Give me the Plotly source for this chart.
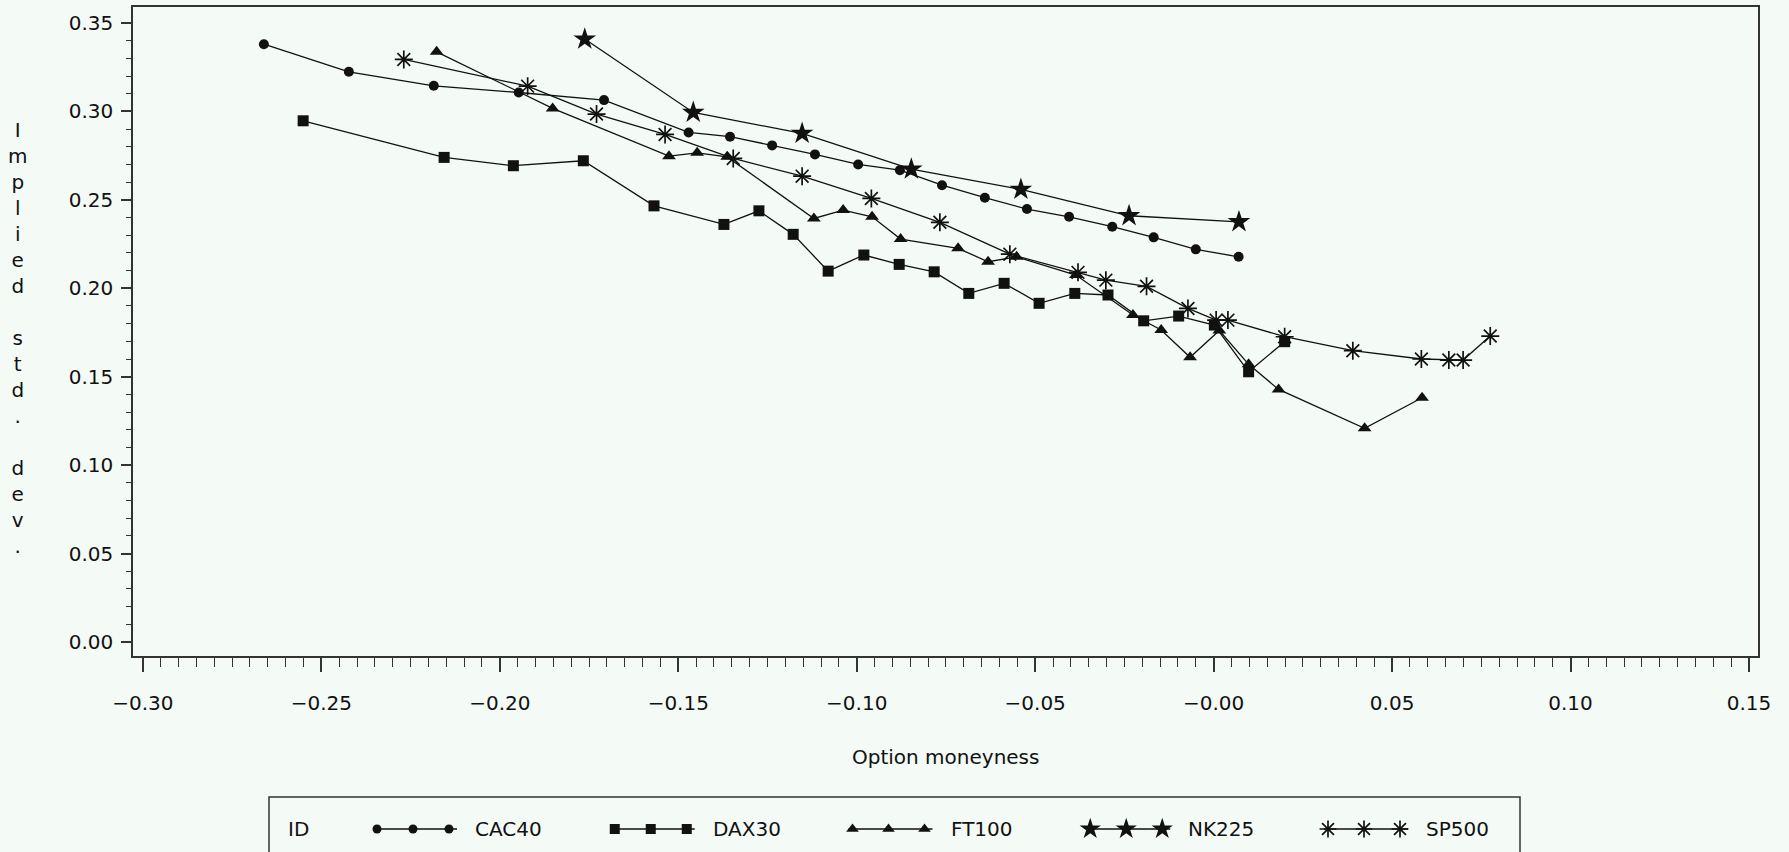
import plotly.graph_objects as go

# ---------------- data ----------------
cac40_x = [-0.2661, -0.2423, -0.2185, -0.1947, -0.1708, -0.1471, -0.1355, -0.1237, -0.1117, -0.0996,
           -0.0879, -0.0761, -0.0641, -0.0523, -0.0405, -0.0284, -0.0168, -0.0050, 0.0070]
cac40_y = [0.3380, 0.3224, 0.3145, 0.3107, 0.3064, 0.2881, 0.2857, 0.2808, 0.2757, 0.2700,
           0.2668, 0.2583, 0.2512, 0.2448, 0.2404, 0.2348, 0.2288, 0.2220, 0.2178]

dax30_x = [-0.2551, -0.2156, -0.1962, -0.1766, -0.1568, -0.1372, -0.1274, -0.1178, -0.1080, -0.0980,
           -0.0881, -0.0783, -0.0686, -0.0587, -0.0489, -0.0389, -0.0296, -0.0196, -0.0098, 0.0002,
           0.0098, 0.0199]
dax30_y = [0.2947, 0.2740, 0.2693, 0.2721, 0.2466, 0.2361, 0.2438, 0.2305, 0.2097, 0.2188,
           0.2135, 0.2093, 0.1971, 0.2028, 0.1915, 0.1971, 0.1962, 0.1816, 0.1843, 0.1792,
           0.1528, 0.1698]

ft100_x = [-0.2177, -0.1852, -0.1526, -0.1447, -0.1363, -0.1120, -0.1038, -0.0957, -0.0877, -0.0716,
           -0.0632, -0.0552, -0.0386, -0.0226, -0.0147, -0.0066, 0.0016, 0.0098, 0.0182, 0.0423,
           0.0584]
ft100_y = [0.3337, 0.3017, 0.2747, 0.2766, 0.2743, 0.2395, 0.2442, 0.2404, 0.2278, 0.2226,
           0.2150, 0.2178, 0.2075, 0.1849, 0.1764, 0.1610, 0.1761, 0.1570, 0.1428, 0.1208,
           0.1381]

nk225_x = [-0.1762, -0.1458, -0.1153, -0.0847, -0.0540, -0.0237, 0.0071]
nk225_y = [0.3409, 0.2994, 0.2876, 0.2674, 0.2559, 0.2410, 0.2376]

sp500_x = [-0.2269, -0.1922, -0.1729, -0.1537, -0.1346, -0.1153, -0.0959, -0.0767, -0.0571, -0.0380,
           -0.0302, -0.0188, -0.0072, 0.0007, 0.0040, 0.0199, 0.0390, 0.0582, 0.0659, 0.0699,
           0.0775]
sp500_y = [0.3294, 0.3143, 0.2985, 0.2870, 0.2734, 0.2634, 0.2508, 0.2373, 0.2193, 0.2090,
           0.2046, 0.2011, 0.1886, 0.1820, 0.1820, 0.1726, 0.1647, 0.1600, 0.1594, 0.1594,
           0.1730]

series_names = ["CAC40", "DAX30", "FT100", "NK225", "SP500"]
series_x = [cac40_x, dax30_x, ft100_x, nk225_x, sp500_x]
series_y = [cac40_y, dax30_y, ft100_y, nk225_y, sp500_y]

x_tick_vals = [-0.30, -0.25, -0.20, -0.15, -0.10, -0.05, 0.00, 0.05, 0.10, 0.15]
x_tick_text = ["\u22120.30", "\u22120.25", "\u22120.20", "\u22120.15", "\u22120.10",
               "\u22120.05", "\u22120.00", "0.05", "0.10", "0.15"]
y_tick_vals = [0.00, 0.05, 0.10, 0.15, 0.20, 0.25, 0.30, 0.35]
y_tick_text = ["0.00", "0.05", "0.10", "0.15", "0.20", "0.25", "0.30", "0.35"]

x_title = "Option moneyness"
y_title = "Implied std. dev."
legend_title = "ID"

# ---------------- styles ----------------
W, H = 1789, 852
BG = "#F4FAF6"
INK = "#111111"
FONT = "DejaVu Sans"
ML, MR, MT, MB = 133, 31, 7, 0
plot_h = H - MT - MB
main_bottom_px = 656
legend_top_px = 797

symbols = ["circle", "square", "triangle-up", "star", "asterisk-open"]
sizes = [10, 11, 12, 17, 15]
leg_sizes = [9, 10, 11, 16, 14]

fig = go.Figure()

for name, xs, ys, sym, sz in zip(series_names, series_x, series_y, symbols, sizes):
    fig.add_trace(go.Scatter(
        x=xs, y=ys, mode="lines+markers", name=name, showlegend=False,
        line=dict(color=INK, width=1.3),
        marker=dict(symbol=sym, size=sz, color=INK,
                    line=dict(color=INK, width=1.7 if sym == "asterisk-open" else 0)),
        xaxis="x", yaxis="y",
    ))

# ---------------- custom legend (three symbols per sample, as in the reference) -------------
leg_left_px, leg_right_px = 269, 1520
leg_w = leg_right_px - leg_left_px
leg_h = H - legend_top_px
item_y = H - 829            # centre line of legend items (px from bottom)
first_marker = 108
item_step = 237.75
marker_gap = 36
text_offset = 96

annotations = []
for i, (name, sym, sz) in enumerate(zip(series_names, symbols, leg_sizes)):
    m0 = first_marker + i * item_step
    fig.add_trace(go.Scatter(
        x=[m0 - 4, m0 + 2 * marker_gap + 8], y=[item_y, item_y], mode="lines",
        line=dict(color=INK, width=1.3), showlegend=False, hoverinfo="skip",
        xaxis="x2", yaxis="y2"))
    fig.add_trace(go.Scatter(
        x=[m0 + k * marker_gap for k in range(3)], y=[item_y] * 3, mode="markers",
        marker=dict(symbol=sym, size=sz, color=INK,
                    line=dict(color=INK, width=1.7 if sym == "asterisk-open" else 0)),
        showlegend=False, hoverinfo="skip", xaxis="x2", yaxis="y2"))
    annotations.append(dict(x=m0 + text_offset, y=item_y, xref="x2", yref="y2",
                            text=name, showarrow=False, xanchor="left", yanchor="middle",
                            font=dict(family=FONT, size=20, color=INK)))

annotations.append(dict(x=17, y=item_y, xref="x2", yref="y2", text=legend_title,
                        showarrow=False, xanchor="left", yanchor="middle",
                        font=dict(family=FONT, size=20, color=INK)))

# axis titles
annotations.append(dict(x=0.5, y=(H - 757) / plot_h, xref="paper", yref="paper",
                        text=x_title, showarrow=False, xanchor="center", yanchor="middle",
                        font=dict(family=FONT, size=20, color=INK)))
annotations.append(dict(x=(17 - ML) / (W - ML - MR), y=(H - 338) / plot_h,
                        xref="paper", yref="paper",
                        text="<br>".join(ch if ch != " " else "&nbsp;" for ch in y_title),
                        showarrow=False, xanchor="center", yanchor="middle", align="center",
                        font=dict(family=FONT, size=20, color=INK)))

plot_w = W - ML - MR
shapes = [dict(type="path", xref="paper", yref="paper",
               path="M {x0},{y0} L {x0},{y1} L {x1},{y1} L {x1},{y0}".format(
                   x0=(leg_left_px - ML) / plot_w, x1=(leg_right_px - ML) / plot_w,
                   y0=-0.02, y1=leg_h / plot_h),
               line=dict(color="#333333", width=1.5))]

y_lo = (642 - main_bottom_px) / 1768.6
y_hi = (642 - MT) / 1768.6
x_lo = -0.30 - (142.9 - ML) / 3569.0
x_hi = 0.15 + ((W - MR) - 1749.0) / 3569.0

fig.update_layout(
    width=W, height=H,
    margin=dict(l=ML, r=MR, t=MT, b=MB, pad=0),
    paper_bgcolor=BG, plot_bgcolor=BG,
    font=dict(family=FONT, size=20, color=INK),
    showlegend=False,
    annotations=annotations,
    shapes=shapes,
    xaxis=dict(domain=[0, 1], anchor="y", range=[x_lo, x_hi],
               tickmode="array", tickvals=x_tick_vals, ticktext=x_tick_text,
               ticks="outside", ticklen=14, tickwidth=1.5, tickcolor="#333333",
               ticklabelstandoff=14,
               minor=dict(dtick=0.005, tick0=0, ticks="outside", ticklen=9,
                          tickwidth=1.2, tickcolor="#333333", showgrid=False),
               showline=True, linecolor="#333333", linewidth=1.5, mirror=True,
               showgrid=False, zeroline=False,
               tickfont=dict(family=FONT, size=20, color=INK)),
    yaxis=dict(domain=[(H - main_bottom_px) / plot_h, 1], anchor="x",
               range=[y_lo, y_hi],
               tickmode="array", tickvals=y_tick_vals, ticktext=y_tick_text,
               ticks="outside", ticklen=10, tickwidth=1.5, tickcolor="#333333",
               ticklabelstandoff=4,
               minor=dict(dtick=0.01, tick0=0, ticks="outside", ticklen=5,
                          tickwidth=1.2, tickcolor="#333333", showgrid=False),
               showline=True, linecolor="#333333", linewidth=1.5, mirror=True,
               showgrid=False, zeroline=False,
               tickfont=dict(family=FONT, size=20, color=INK)),
    xaxis2=dict(domain=[(leg_left_px - ML) / plot_w, (leg_right_px - ML) / plot_w],
                anchor="y2", range=[0, leg_w], visible=False, fixedrange=True),
    yaxis2=dict(domain=[0, leg_h / plot_h], anchor="x2", range=[0, leg_h],
                visible=False, fixedrange=True),
)

fig.write_html("out.html")
